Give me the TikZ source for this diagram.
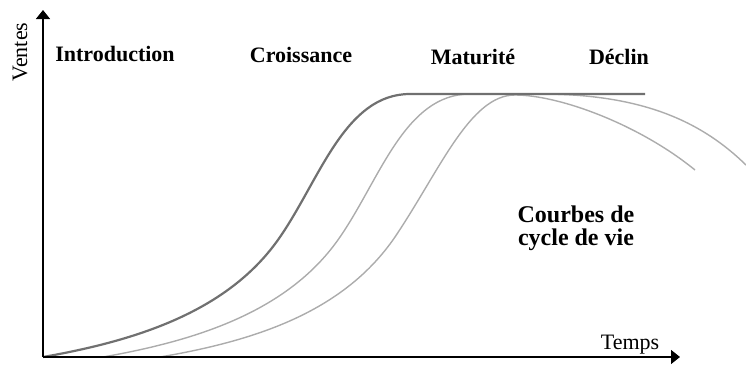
\documentclass[tikz,border=0pt]{standalone}
\usepackage{fontspec}
\setmainfont{Liberation Serif}
\usetikzlibrary{arrows.meta}
\definecolor{grisfonce}{HTML}{707070}
\definecolor{grisclair}{HTML}{ACACAC}
\tikzset{
axe/.style={ % axes du graphique
line width=0.75pt,
-{Triangle[length=4.5pt,width=7pt]}},
phase/.style={ % titres des phases
font=\fontsize{11}{13}\selectfont\bfseries,
anchor=base},
courbe principale/.style={
draw=grisfonce,
line width=1.1pt},
courbe/.style={
draw=grisclair,
line width=0.7pt}}

\begin{document}
\begin{tikzpicture}[x=0.5pt,y=-0.5pt]
\useasboundingbox (0,0) rectangle (746,365);
\clip (0,0) rectangle (746,365);
\coordinate (O) at (43,357);
\coordinate (Ymax) at (43,10);
\coordinate (Xmax) at (680,357);
% courbes
\draw[courbe] (160,357) .. controls (260,340) and (345,310) .. (395,237)
  .. controls (440,170) and (470,95) .. (515,95)
  .. controls (560,95) and (640,125) .. (695,170);
\draw[courbe] (103,357) .. controls (200,340) and (290,310) .. (340,237)
  .. controls (380,179) and (405,94) .. (470,94) -- (540,94)
  .. controls (640,94) and (700,120) .. (746,165);
\draw[courbe principale] (43,357) .. controls (140,340) and (230,310) .. (280,237)
  .. controls (320,179) and (345,94) .. (410,94) -- (645,94);
% axes
\draw[axe] (O) -- (Ymax);
\draw[axe] (O) -- (Xmax);
\node[rotate=90,font=\fontsize{11}{13}\selectfont] (ventes) at (20,52) {Ventes};
\node[anchor=base,font=\fontsize{11}{13}\selectfont] (temps) at (630,349) {Temps};
% phases
\node[phase] (intro) at (115,61) {Introduction};
\node[phase] (croissance) at (301,62) {Croissance};
\node[phase] (maturite) at (473,64) {Maturité};
\node[phase] (declin) at (619,64) {Déclin};
\node[font=\fontsize{12}{11.5}\selectfont\bfseries,align=center] (titre) at (576,228) {Courbes de\\cycle de vie};
\end{tikzpicture}
\end{document}
